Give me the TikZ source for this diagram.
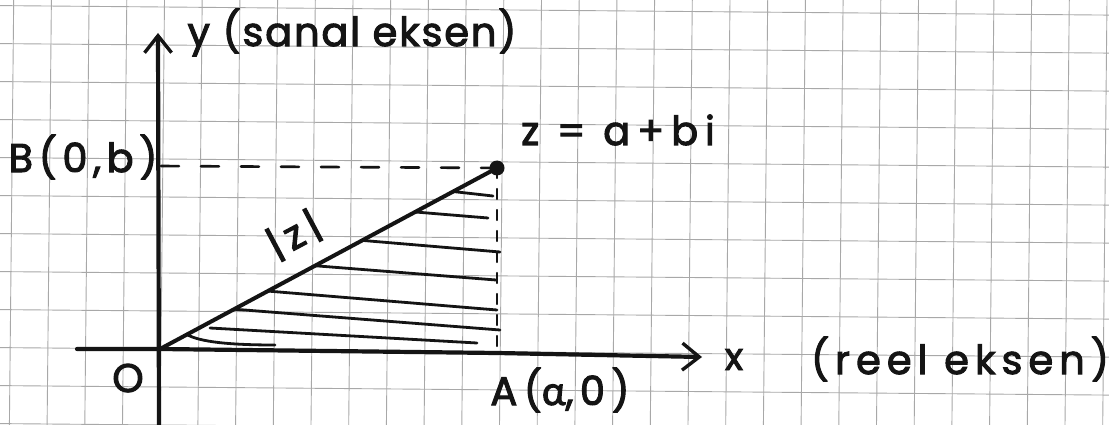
\documentclass[tikz,border=0pt]{standalone}
\usepackage{fontspec}
\setmainfont{Poppins}[FakeBold=2.5]
\newfontfamily\greekfont{Lato}[FakeBold=2.5]
\usetikzlibrary{calc,arrows.meta}
\definecolor{inkc}{HTML}{141414}
\definecolor{gridc}{HTML}{A8A8A8}
\newcommand{\lsp}[1]{\addfontfeature{LetterSpace=#1}}
\begin{document}
\begin{tikzpicture}[x=1pt,y=-1pt,
  ink/.style={draw=inkc, line cap=round, line join=round},
  axisline/.style={ink, line width=4.2pt},
  hatchline/.style={ink, line width=2.8pt},
  barb/.style={-{Straight Barb[length=17pt,width=27pt,line width=3.4pt]}},
  lab/.style={text=inkc, inner sep=0pt},
  gridline/.style={draw=gridc, line width=0.9pt}]
\useasboundingbox (0,0) rectangle (1109,425);
\fill[white] (0,0) rectangle (1109,425);
% grid paper
\foreach \k in {-2,...,9} {\draw[gridline] (0,{349-38*\k-1.4}) -- (1109,{349-38*\k+8.1});}
\foreach \j in {-4,...,25} {\draw[gridline] ({161+37.7*\j+3.5},0) -- ({161+37.7*\j-0.8},425);}
% key points
\coordinate (O) at (160,349);
\coordinate (ytop) at (158,33);
\coordinate (ybot) at (159,427);
\coordinate (xleft) at (77,349);
\coordinate (xtip) at (702,357);
\coordinate (A) at (497,353);
\coordinate (B) at (161,166);
\node[circle, fill=inkc, minimum size=15pt, inner sep=0pt] (Z) at (497,168) {};
% axes
\draw[axisline, barb] (ybot) -- (ytop);
\draw[axisline, barb] (xleft) -- (O) -- (A) -- (xtip);
% dashed projections
\draw[ink, line width=2.6pt, dash pattern=on 18pt off 22pt] (B) -- (Z.center);
\draw[ink, line width=2.4pt, dash pattern=on 10pt off 11pt] (Z.center) -- (A);
% modulus
\draw[axisline, line width=4pt] (O) -- (Z.center);
% hatching
\draw[hatchline] ($(O)!0.87!(Z.center)$) -- (493,196);
\draw[hatchline] ($(O)!0.757!(Z.center)$) -- (488,218);
\draw[hatchline] ($(O)!0.60!(Z.center)$) -- (500,252);
\draw[hatchline] ($(O)!0.46!(Z.center)$) -- (496,280);
\draw[hatchline] ($(O)!0.32!(Z.center)$) -- (497,310);
\draw[hatchline] ($(O)!0.22!(Z.center)$) -- (500,330);
\draw[hatchline] (210,328) -- (477,343);
\draw[hatchline] ($(O)!0.08!(Z.center)$) .. controls (200,342) and (230,345) .. (275,345);
% labels
\node[lab, anchor=base, font=\fontsize{40}{44}\selectfont\lsp{4.5}] (ylab) at (352,46) {y (sanal eksen)};
\node[lab, anchor=base, font=\fontsize{40}{44}\selectfont\lsp{14}] (Blab) at (83,172) {B(0,b)};
\node[lab, anchor=base, font=\fontsize{40}{44}\selectfont\lsp{17}] (zlab) at (618,145) {z = a+bi};
\node[lab, anchor=base, font=\fontsize{38}{42}\selectfont] (xlab) at (734,370) {x};
\node[lab, anchor=base, font=\fontsize{40}{44}\selectfont\lsp{15}] (reel) at (960,374) {(reel eksen)};
\node[lab, anchor=base, font=\fontsize{40}{44}\selectfont\lsp{16}] (Alab) at (560,405) {A({\greekfont α},0)};
\node[lab, anchor=base, font=\fontsize{40}{44}\selectfont] (Olab) at (128,392) {O};
\node[lab, anchor=center, rotate=28, font=\fontsize{40}{44}\selectfont\lsp{16}] (mod) at (294,235) {|z|};
\end{tikzpicture}
\end{document}
